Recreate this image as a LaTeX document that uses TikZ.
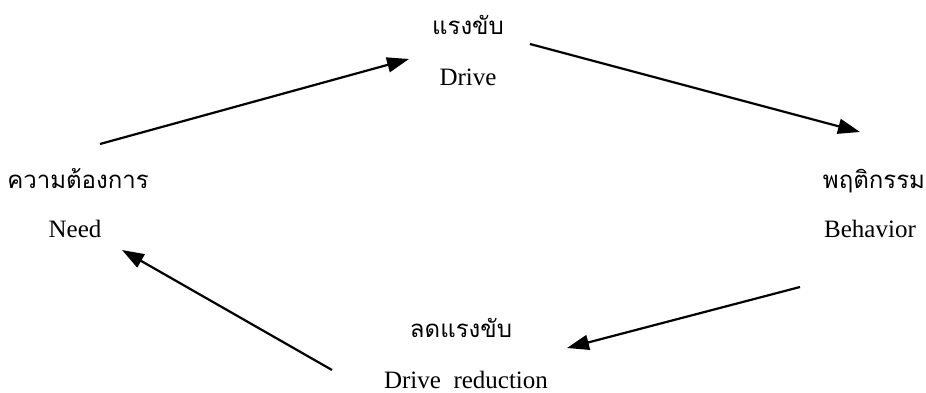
\documentclass[tikz,border=0pt]{standalone}
\usepackage{fontspec}
\setmainfont{Liberation Serif}
\newfontfamily\thaifont[Script=Thai]{Loma}
\usetikzlibrary{arrows.meta}

\tikzset{
  thai/.style={anchor=base, inner sep=0pt, font=\thaifont\fontsize{24}{28}\selectfont},
  eng/.style={anchor=base, inner sep=0pt, font=\fontsize{25}{30}\selectfont},
  flow/.style={-{Triangle[length=22pt,width=15pt]}, line width=2.2pt}
}

\begin{document}
\begin{tikzpicture}[x=1pt,y=1pt]
          \useasboundingbox (0,0) rectangle (926,392);
          % Nodi del ciclo
          \node[thai] (driveTh) at (468,358) {แรงขับ};
          \node[eng] (driveEn) at (468,307) {Drive};
          \node[thai] (needTh) at (78,204) {ความต้องการ};
          \node[eng] (needEn) at (75,155) {Need};
          \node[thai] (behTh) at (874,204) {พฤติกรรม};
          \node[eng] (behEn) at (870,155) {Behavior};
          \node[thai] (redTh) at (461,55) {ลดแรงขับ};
          \node[eng] (redEn) at (466,4) {Drive\ \ reduction};

          % Frecce tra i nodi
          \draw[flow] ([xshift=22pt,yshift=44pt]needTh.base) -- ([xshift=-59pt,yshift=26pt]driveEn.base); % Need -> Drive
          \draw[flow] ([xshift=62pt,yshift=-10pt]driveTh.base) -- ([xshift=-14pt,yshift=56pt]behTh.base); % Drive -> Behavior
          \draw[flow] ([xshift=-70pt,yshift=-50pt]behEn.base) -- ([xshift=106pt,yshift=-11pt]redTh.base); % Behavior -> riduzione
          \draw[flow] ([xshift=-134pt,yshift=18pt]redEn.base) -- ([xshift=47pt,yshift=-13pt]needEn.base); % riduzione -> Need
        \end{tikzpicture}
\end{document}
